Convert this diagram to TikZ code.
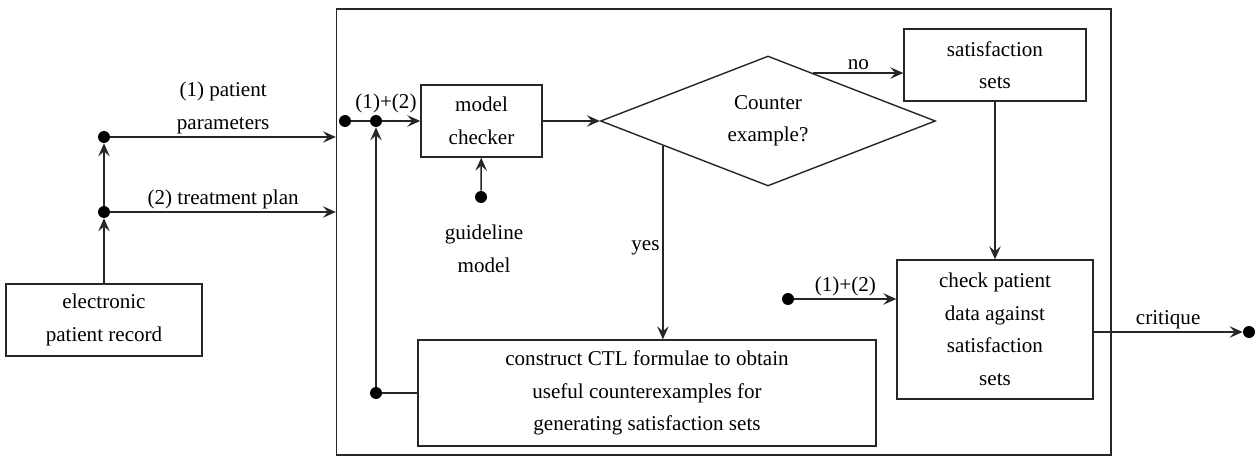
\documentclass[tikz,border=0pt]{standalone}
\usepackage{fontspec}
\setmainfont{Liberation Serif}
\usetikzlibrary{shapes.geometric,calc,arrows.meta}

\begin{document}
\begin{tikzpicture}[x=0.02cm, y=-0.02cm,
    >={Stealth[length=2.6mm, width=2.3mm, inset=1mm]},
    every node/.style={font=\fontsize{12}{18.5}\selectfont},
    box/.style={draw=black!85, line width=0.8pt, align=center, inner sep=0pt},
    decision/.style={diamond, draw=black!85, line width=0.8pt, align=center,
        inner sep=0pt, aspect=2.58},
    dot/.style={circle, fill=black, inner sep=0pt, minimum size=0.24cm},
    flow/.style={line width=0.8pt, draw=black!85},
    lbl/.style={inner sep=1.5pt}]

    % Page size
    \useasboundingbox (0,0) rectangle (1255,456);

    % Checking system (outer frame)
    \node[box, minimum width=15.49cm, minimum height=8.92cm] (frame) at (723.75,232) {};

    % Electronic patient record and its outputs
    \node[box, minimum width=3.92cm, minimum height=1.44cm] (epr) at (104,320)
        {electronic\\patient record};
    \node[dot] (dparam) at (104,137) {};
    \node[dot] (dplan) at (104,212) {};
    \draw[flow, ->] (epr) -- (dplan);
    \draw[flow, ->] (dplan) -- (dparam);
    \draw[flow, ->] (dparam) -- (frame.west |- dparam)
        node[lbl, midway, above, align=center] (lparam) {(1) patient\\parameters};
    \draw[flow, ->] (dplan) -- (frame.west |- dplan)
        node[lbl, midway, above] (lplan) {(2) treatment plan};

    % Model checker
    \node[box, minimum width=2.42cm, minimum height=1.44cm] (mc) at (481.5,121)
        {model\\checker};
    \node[dot] (din) at (345,121) {};
    \node[dot] (djoin) at (376,121) {};
    \node[lbl] (lin) at (386,103) {(1)+(2)};
    \draw[flow] (din) -- (djoin);
    \draw[flow, ->] (djoin) -- (mc);

    % Guideline model
    \node[dot] (dguide) at (481,197) {};
    \node[align=center] (lguide) at (484,249) {guideline\\model};
    \draw[flow, ->] (dguide) -- (mc);

    % Decision
    \node[decision, minimum width=6.7cm, minimum height=2.6cm] (dec) at (768,121)
        {Counter\\example?};
    \draw[flow, ->] (mc) -- (dec);

    % Satisfaction sets
    \node[box, minimum width=3.64cm, minimum height=1.44cm] (sat) at (995,65)
        {satisfaction\\sets};
    \coordinate (noout) at ($(dec.north)!0.27!(dec.east)$);
    \draw[flow, ->] (noout) -- (sat.west |- noout)
        node[lbl, midway, above] (lno) {no};

    % Construct CTL formulae
    \node[box, minimum width=9.16cm, minimum height=2.12cm] (ctl) at (647,393)
        {construct CTL formulae to obtain\\useful counterexamples for\\generating satisfaction sets};
    \coordinate (yesout) at ($(dec.west)!0.375!(dec.south)$);
    \draw[flow, ->] (yesout) -- (ctl.north -| yesout)
        node[lbl, midway, left, yshift=-0.1cm] (lyes) {yes};
    \node[dot] (dback) at (376,393) {};
    \draw[flow] (ctl) -- (dback);
    \draw[flow, ->] (dback) -- (djoin);

    % Check patient data
    \node[box, minimum width=3.92cm, minimum height=2.78cm] (check) at (995,329.5)
        {check patient\\data against\\satisfaction\\sets};
    \draw[flow, ->] (sat) -- (check);
    \node[dot] (dcheck) at (788,299) {};
    \draw[flow, ->] (dcheck) -- (check.west |- dcheck)
        node[lbl, midway, above] (lcheck) {(1)+(2)};

    % Critique
    \node[dot] (dout) at (1249,332) {};
    \draw[flow, ->] (check.east |- dout) -- (dout)
        node[lbl, midway, above] (lout) {critique};

\end{tikzpicture}
\end{document}
